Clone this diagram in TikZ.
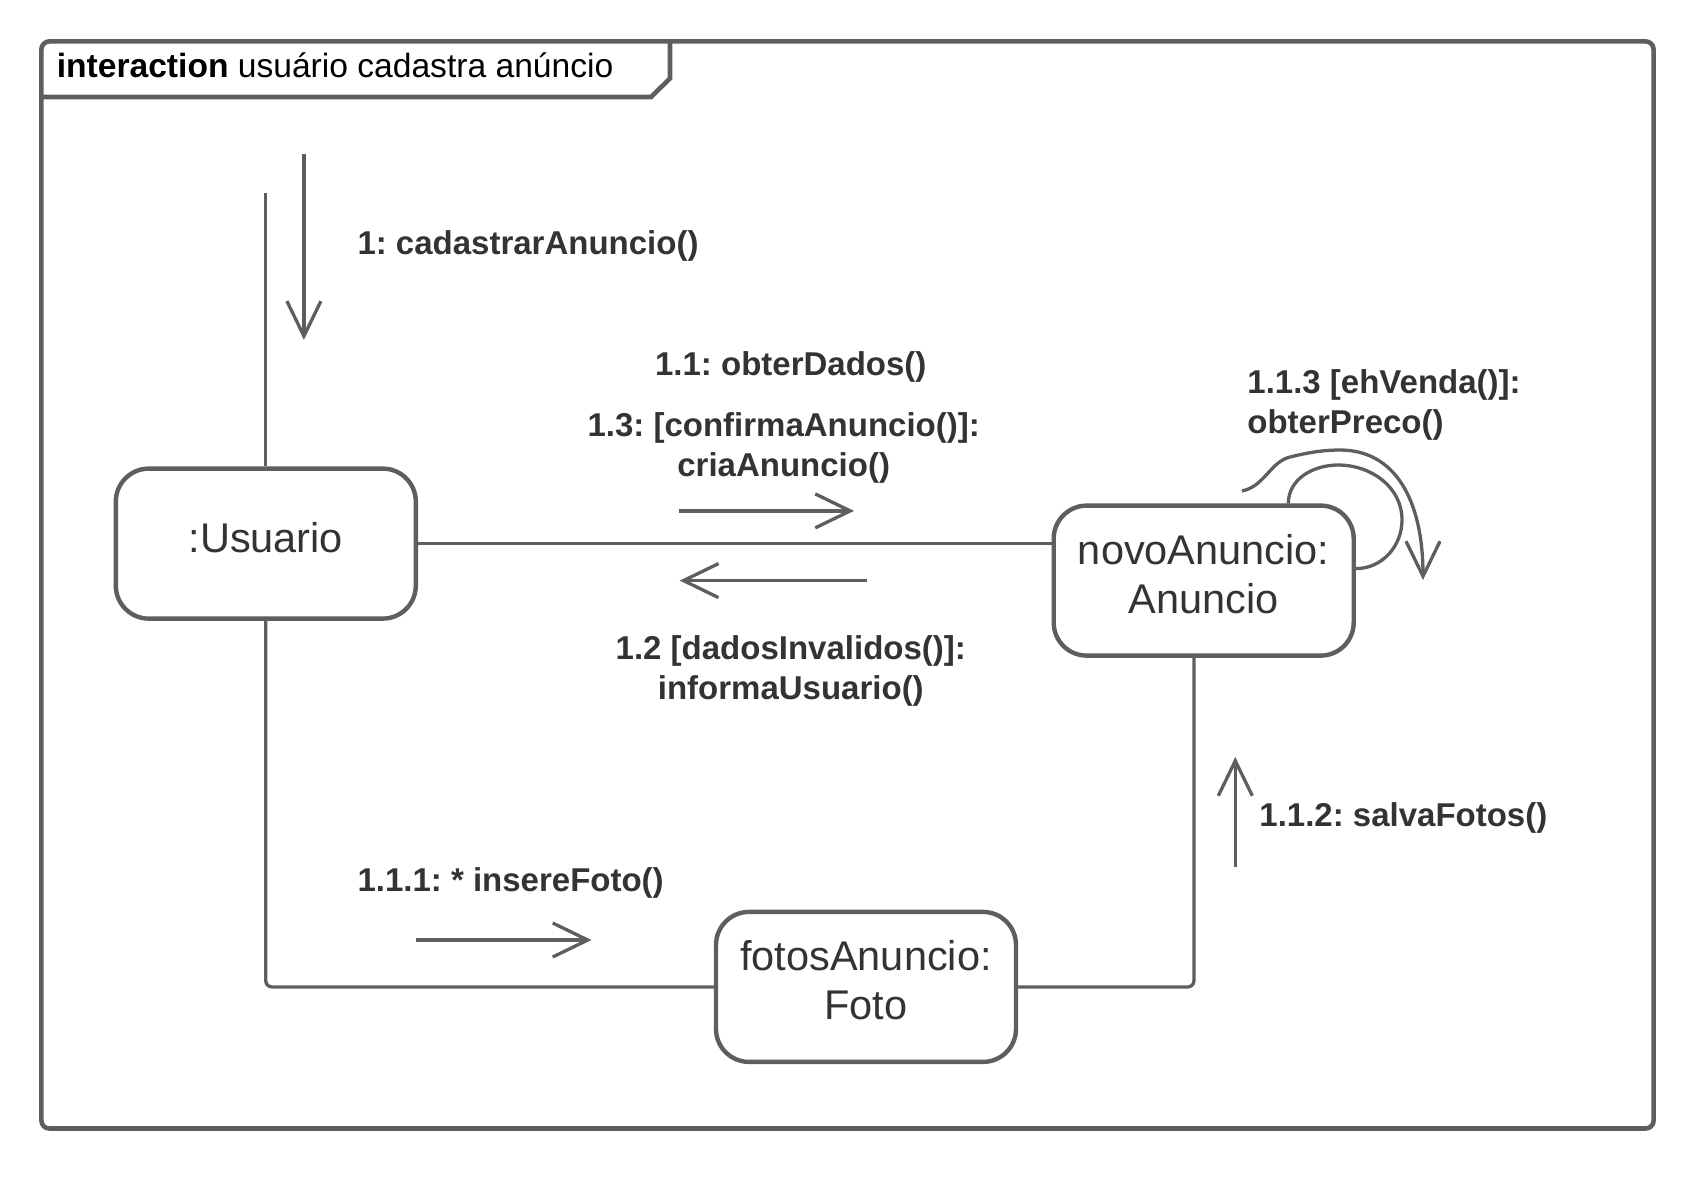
\documentclass[tikz,border=0pt]{standalone}
\usepackage{fontspec}
\setmainfont{Liberation Sans}
\usetikzlibrary{arrows.meta}
\definecolor{umlline}{RGB}{94,94,94}
\definecolor{umltext}{RGB}{51,51,51}
\frenchspacing

\begin{document}
\begin{tikzpicture}[x=1pt,y=-1pt,
  obj/.style = {draw=umlline, line width=4.4pt, rounded corners=33pt,
     minimum width=300pt, minimum height=150pt, inner sep=0pt, text depth=13pt,
     align=center, text=umltext, font=\fontsize{41.5}{49}\selectfont},
  link/.style = {draw=umlline, line width=3.3pt, rounded corners=6pt},
  msg/.style = {draw=umlline, line width=3.3pt,
     -{Straight Barb[length=35pt,width=34pt]}},
  lbl/.style = {text=umltext, inner sep=0pt, align=center,
     font=\bfseries\fontsize{33}{40}\selectfont}]

\useasboundingbox (0,0) rectangle (1708,1176);

% frame and its tab
\draw[draw=umlline, line width=4.6pt, rounded corners=8pt] (41.4,41.4) rectangle (1653.6,1128.5);
\draw[draw=umlline, line width=4.6pt] (41.4,97) -- (651,97) -- (670,78.4) -- (670,41.4);
\node[anchor=west, inner sep=0pt, font=\fontsize{33.6}{40}\selectfont] (title) at (56.6,65.4)
  {\textbf{interaction} usuário cadastra anúncio};

% objects
\node[obj] (usuario) at (265.8,543.6) {:Usuario};
\node[obj] (novo) at (1203.7,580.6) {novoAnuncio:\\Anuncio};
\node[obj] (fotos) at (866,986.9) {fotosAnuncio:\\Foto};

% links
\coordinate (entry) at (265.8,192.8);
\draw[link] (usuario.north) -- (entry);
\draw[link] (usuario.east) -- (usuario.east -| novo.west);
\draw[link] (usuario.south) |- (fotos.west);
\draw[link] (fotos.east) -| ([xshift=-9.8pt]novo.south);
\draw[link, rounded corners=0pt] ([xshift=84.6pt]novo.north) to[out=90,in=180] (1338,465)
  to[out=0,in=90] (1402,520) to[out=-90,in=0] ([yshift=12pt]novo.east);

% messages
\coordinate (m1 s) at (303.9,153.6);   \coordinate (m1 e) at (303.9,339.9);
\coordinate (m13 s) at (678.6,510.9);  \coordinate (m13 e) at (854,510.9);
\coordinate (m12 s) at (867,580.6);    \coordinate (m12 e) at (679.7,580.6);
\coordinate (m111 s) at (416.1,940);   \coordinate (m111 e) at (591.5,940);
\coordinate (m112 s) at (1235.3,867);  \coordinate (m112 e) at (1235.3,757);
\draw[msg] (m1 s) -- (m1 e);
\draw[msg] (m13 s) -- (m13 e);
\draw[msg] (m12 s) -- (m12 e);
\draw[msg] (m111 s) -- (m111 e);
\draw[msg] (m112 s) -- (m112 e);
\draw[msg] (1242,491) .. controls (1265,486) and (1270,462) .. (1290,457)
  .. controls (1310,452) and (1325,450) .. (1340,450)
  .. controls (1395,450) and (1423,500) .. (1423,580);

% labels
\node[lbl, anchor=west] (m1) at (357.3,246.2) {1: cadastrarAnuncio()};
\node[lbl] (m11) at (790.8,367) {1.1: obterDados()};
\node[lbl] (m13) at (783.7,448) {1.3: [confirmaAnuncio()]:\\criaAnuncio()};
\node[lbl] (m12) at (790.8,670.5) {1.2 [dadosInvalidos()]:\\informaUsuario()};
\node[lbl, anchor=west, align=left] (m113) at (1247.2,404.5) {1.1.3 [ehVenda()]:\\obterPreco()};
\node[lbl, anchor=west] (m112) at (1259.2,818) {1.1.2: salvaFotos()};
\node[lbl, anchor=west] (m111) at (357.3,883.3) {1.1.1: * insereFoto()};

\end{tikzpicture}
\end{document}
